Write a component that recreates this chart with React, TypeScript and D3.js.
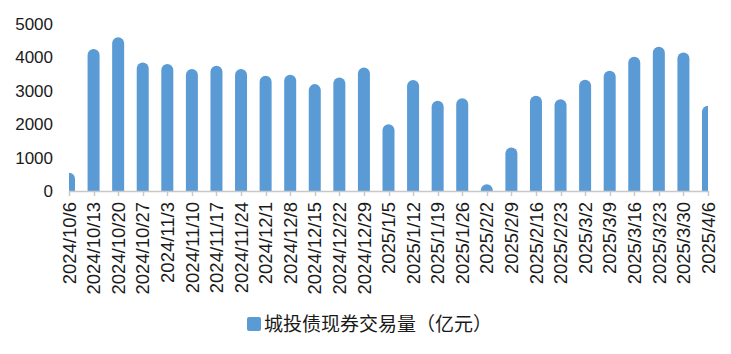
import * as d3 from "d3";

const categories = [
  "2024/10/6", "2024/10/13", "2024/10/20", "2024/10/27", "2024/11/3", "2024/11/10",
  "2024/11/17", "2024/11/24", "2024/12/1", "2024/12/8", "2024/12/15", "2024/12/22",
  "2024/12/29", "2025/1/5", "2025/1/12", "2025/1/19", "2025/1/26", "2025/2/2",
  "2025/2/9", "2025/2/16", "2025/2/23", "2025/3/2", "2025/3/9", "2025/3/16",
  "2025/3/23", "2025/3/30", "2025/4/6",
];

const volumes = [
  550, 4250, 4600, 3850, 3800, 3650, 3750, 3650, 3450, 3480, 3200, 3400, 3700,
  2000, 3320, 2700, 2780, 200, 1300, 2850, 2750, 3330, 3600, 4020, 4320, 4150, 2550,
];

const yTicks = [0, 1000, 2000, 3000, 4000, 5000];
const seriesName = "城投债现券交易量（亿元）";

const W = 731;
const H = 354;
const left = 69;
const right = 708;
const top = 24;
const bottom = 191;
const barW = 12;
const color = "#5b9bd5";
const textColor = "#1a1a1a";

export default function App() {
  const x = d3.scalePoint<string>().domain(categories).range([left, right]);
  const y = d3.scaleLinear().domain([0, 5000]).range([bottom, top]);

  const barPath = (cx: number, v: number) => {
    const r = barW / 2;
    const yt = y(v);
    const p = d3.path();
    p.moveTo(cx - r, bottom);
    p.lineTo(cx - r, yt + r);
    p.arc(cx, yt + r, r, Math.PI, 0);
    p.lineTo(cx + r, bottom);
    p.closePath();
    return p.toString();
  };

  return (
    <svg
      width={W}
      height={H}
      style={{ position: "absolute", left: 0, top: 0, display: "block", background: "#fff" }}
    >
      <defs>
        <clipPath id="plot">
          <rect x={left} y={0} width={right - left} height={bottom} />
        </clipPath>
      </defs>

      {/* y labels */}
      {yTicks.map(t => (
        <text
          key={t}
          x={53}
          y={y(t)}
          dy="0.35em"
          textAnchor="end"
          fontFamily="Liberation Sans, Arial, sans-serif"
          fontSize={17}
          fill={textColor}
        >
          {t}
        </text>
      ))}

      {/* bars */}
      <g clipPath="url(#plot)">
        {categories.map((c, i) => (
          <path key={c} d={barPath(x(c)!, volumes[i])} fill={color} />
        ))}
      </g>

      {/* x axis */}
      <line x1={left} x2={right} y1={bottom + 0.5} y2={bottom + 0.5} stroke="#c8c8c8" strokeWidth={1.5} />
      {categories.map(c => (
        <line
          key={c}
          x1={Math.round(x(c)!) + 0.5}
          x2={Math.round(x(c)!) + 0.5}
          y1={bottom}
          y2={bottom + 5}
          stroke="#c8c8c8"
          strokeWidth={1.5}
        />
      ))}
      {categories.map(c => (
        <text
          key={c}
          transform={`translate(${x(c)},202) rotate(-90)`}
          dy="0.36em"
          textAnchor="end"
          fontFamily="Liberation Sans, Arial, sans-serif"
          fontSize={18.5}
          fill={textColor}
        >
          {c}
        </text>
      ))}

      {/* legend */}
      <rect x={247} y={317} width={14} height={14} rx={2} fill={color} />
      <text
        x={264}
        y={324}
        dy="0.35em"
        fontFamily="Noto Sans CJK SC, sans-serif"
        fontSize={19}
        fill={textColor}
      >
        {seriesName}
      </text>
    </svg>
  );
}
